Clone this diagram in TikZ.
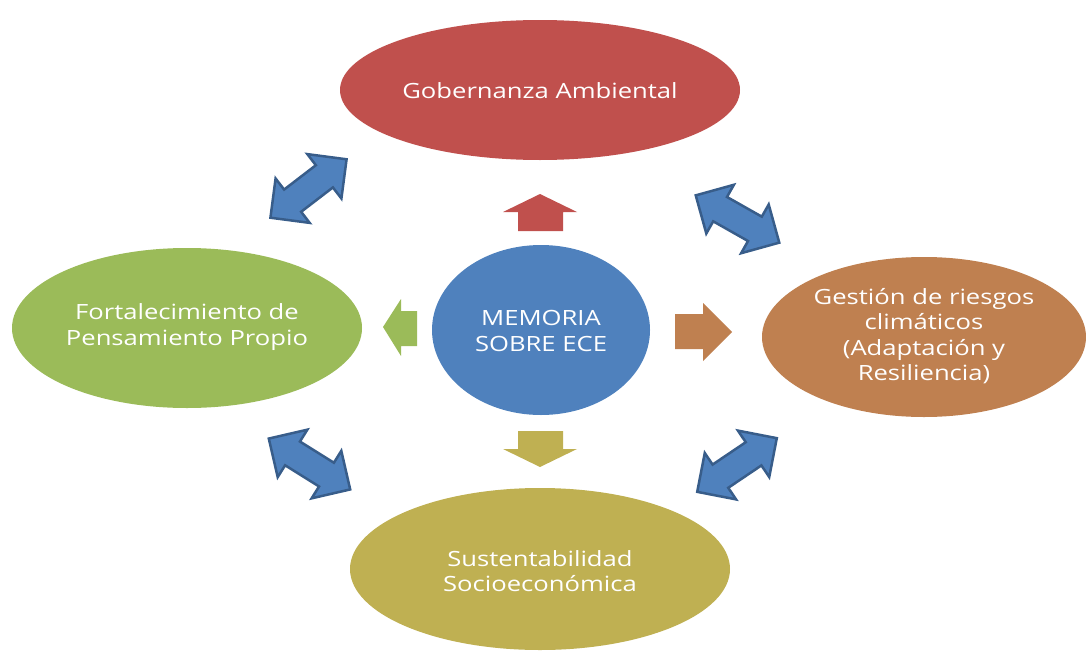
\documentclass[tikz,border=0pt]{standalone}
\usepackage{fontspec}
\setmainfont{Open Sans}[FakeStretch=1.22]
\definecolor{cred}{HTML}{C0504D}
\definecolor{cgreen}{HTML}{9BBB59}
\definecolor{corange}{HTML}{BF8050}
\definecolor{colive}{HTML}{BFB052}
\definecolor{cblue}{HTML}{4F81BD}
\definecolor{cbluedark}{HTML}{385D8A}
\begin{document}
\begin{tikzpicture}[x=1pt,y=-1pt,
  blob/.style={ellipse, inner sep=0pt, text=white, align=center,
    font=\fontsize{21}{25.5}\selectfont},
  dbl/.style={fill=cblue, draw=cbluedark, line width=2.5pt, line join=miter},
  pics/darrow/.style={code={
    \path[dbl] (-48,0) -- (-20,28) -- (-20,14) -- (20,14) -- (20,28) -- (48,0)
      -- (20,-28) -- (20,-14) -- (-20,-14) -- (-20,-28) -- cycle;}}
]
\usetikzlibrary{shapes.geometric}
\useasboundingbox (0,0) rectangle (1086,653);
% ellipses
\fill[cred] (540,90) ellipse [x radius=200, y radius=70];
\node[blob] (top) at (540,91) {Gobernanza Ambiental};
\fill[cgreen] (187,328) ellipse [x radius=175, y radius=80];
\node[blob] (left) at (187,327) {Fortalecimiento de\\Pensamiento Propio};
\fill[corange] (924,337) ellipse [x radius=162, y radius=80];
\node[blob] (right) at (924,336) {Gestión de riesgos\\climáticos\\(Adaptación y\\Resiliencia)};
\fill[colive] (540,569) ellipse [x radius=190, y radius=81];
\node[blob] (bottom) at (540,571) {Sustentabilidad\\Socioeconómica};
\fill[cblue] (541,330) ellipse [x radius=109, y radius=85];
\node[blob] (center) at (541,331) {MEMORIA\\SOBRE ECE};
% single block arrows
\fill[cred] (540,194) -- (577,212) -- (563,212) -- (563,231) -- (518,231) -- (518,212) -- (503,212) -- cycle;
\fill[colive] (540,467) -- (577,449) -- (563,449) -- (563,431) -- (518,431) -- (518,449) -- (503,449) -- cycle;
\fill[cgreen] (383,327) -- (401,299) -- (401,311) -- (417,311) -- (417,346) -- (401,346) -- (401,356) -- cycle;
\fill[corange] (732,332) -- (703,303) -- (703,314) -- (675,314) -- (675,349) -- (703,349) -- (703,361) -- cycle;
% double arrows
\pic[shift={(308.5,188.5)}, rotate=37.5] {darrow};
\pic[shift={(737.5,219)}, rotate=-29.5] {darrow};
\pic[shift={(309.5,464)}, rotate=-32] {darrow};
\pic[shift={(737,465)}, rotate=34] {darrow};
\end{tikzpicture}
\end{document}
